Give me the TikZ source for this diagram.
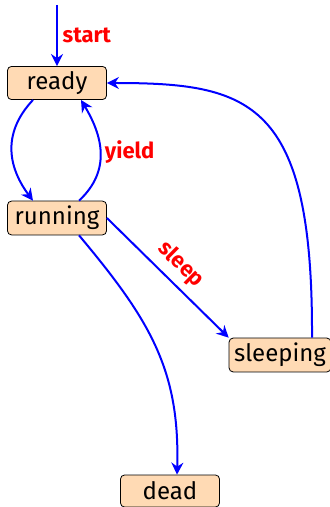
\documentclass[tikz,border=0pt]{standalone}
\usepackage{fontspec}
\setmainfont{Fira Sans}
\usetikzlibrary{arrows.meta, positioning}
\definecolor{melocoton}{RGB}{255, 218, 180}
\definecolor{azultrans}{RGB}{0, 0, 255}
\definecolor{rojoetiq}{RGB}{255, 0, 0}

\begin{document}
\begin{tikzpicture}[x=0.5pt, y=-0.5pt,
      every node/.style={font=\fontsize{12}{14}\selectfont},
      estado/.style={draw=black, fill=melocoton, rounded corners=2pt,
            minimum width=49.5pt, minimum height=16pt, inner sep=2.5pt},
      transicion/.style={-{Stealth[length=6pt, width=6pt, inset=2pt]},
            azultrans, line width=1pt},
      etiqueta/.style={text=rojoetiq, font=\fontsize{11}{13}\selectfont\bfseries}]
      \useasboundingbox (0,0) rectangle (329,507);

      \node[estado] (ready) at (57,83) {ready};
      \node[estado] (running) at (57,218) {running};
      \node[estado] (sleeping) at (280,355) {sleeping};
      \node[estado] (dead) at (170,491) {dead};
      \coordinate (inicio) at (57,5);

      \draw[transicion] (inicio) -- node[etiqueta, right=-1pt] {start} (ready);
      \draw[transicion] ([xshift=-12pt]ready.south)
            .. controls (0,135) and (10,170) .. ([xshift=-12pt]running.north);
      \draw[transicion] ([xshift=11pt]running.north)
            .. controls (112,170) and (102,135) ..
            node[etiqueta, right=-1.5pt] {yield} ([xshift=12pt]ready.south);
      \draw[transicion] (running.east) --
            node[etiqueta, sloped, above] {sleep} (sleeping.north west);
      \draw[transicion] ([xshift=16pt]sleeping.north)
            .. controls (313,100) and (250,83) .. (ready.east);
      \draw[transicion] ([xshift=11pt]running.south)
            .. controls (150,320) and (180,370) .. ([xshift=3.5pt]dead.north);
    \end{tikzpicture}
\end{document}
